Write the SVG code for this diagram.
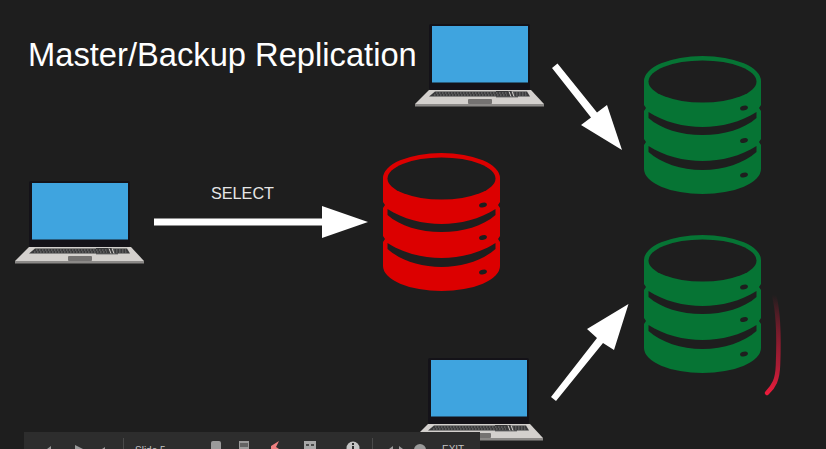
<svg xmlns="http://www.w3.org/2000/svg" xmlns:xlink="http://www.w3.org/1999/xlink" width="826" height="449" viewBox="0 0 826 449">
<style>
.t{font-family:"Liberation Sans",Arial,sans-serif;fill:#fff}
.tb{font-family:"Liberation Sans",Arial,sans-serif;fill:#c4c4c4;font-size:10px}
.ic{fill:#9a9a9a}
.conn{fill:#fff;stroke:none}
</style>
<defs>
<g id="db">
<path d="M0 25A58.5 25 0 0 1 117 25V49L115 52L117 55V83L115 86L117 89V113A58.5 25 0 0 1 0 113V89L2 86L0 83V55L2 52L0 49Z"/>
<ellipse cx="58.5" cy="25.5" rx="54" ry="21" fill="#1e1e1e"/>
<path fill="#1e1e1e" d="M4.5 56C20 66 40 71 58.5 71S97 66 112.5 56V62C100 73 80 79 58.5 79S17 73 4.5 62Z"/>
<path fill="#1e1e1e" d="M4.5 90C20 100 40 105 58.5 105S97 100 112.5 90V96C100 107 80 114 58.5 114S17 107 4.5 96Z"/>
<ellipse cx="100" cy="52" rx="4" ry="2.300" fill="#1e1e1e" transform="rotate(-15 100 52)"/>
<ellipse cx="100" cy="84.500" rx="4" ry="2.300" fill="#1e1e1e" transform="rotate(-15 100 84.500)"/>
<ellipse cx="100" cy="119" rx="4" ry="2.300" fill="#1e1e1e" transform="rotate(-15 100 119)"/>
</g>
<g id="laptop">
<rect x="14" y="0" width="101" height="66" rx="2" fill="#141218"/>
<rect x="17" y="2" width="96" height="56.500" fill="#3fa4df"/>
<path d="M14 66H116L129 80H0Z" fill="#d3d0cd"/>
<path d="M0 80H129V82.500H0Z" fill="#8b8987"/>
<path d="M20 67.500H112L115 72.500H14Z" fill="#3a3a3c"/>
<path d="M81 67.500H97M81 72.800H103" stroke="#3a3a3c" fill="none"/>
<path d="M21 69H92M19 71H92M98 69H111M98 71H113" stroke="#a9a7a6" stroke-width=".6" stroke-dasharray="1.500 1.500" fill="none"/>
<path d="M94 67.500L96 72.500M97 67.500L99 72.500" stroke="#d3d0cd" stroke-width="1" fill="none"/>
<rect x="53" y="75" width="24" height="5" rx="1" fill="#747271"/>
</g>
</defs>
<rect width="826" height="449" fill="#1e1e1e"/>
<text class="t" x="28" y="66" font-size="32.700">Master/Backup Replication</text>
<text class="t" x="211" y="199" font-size="16.200" style="fill:#e6e6e6">SELECT</text>
<g id="connectors">
<path class="conn" d="M154 218.500H322V206L368 222L322 238V225.500H154Z"/>
<path class="conn" d="M552 68L557.500 63.500L597 112.500L607 105L622 150L581 125L591 117.500Z"/>
<path class="conn" d="M551 397L556 401L603 343L614 350L628.500 304L587 329L597 338Z"/>
</g>
<g id="laptop-left"><use xlink:href="#laptop" href="#laptop" x="15" y="181"/></g>
<g id="laptop-top"><use xlink:href="#laptop" href="#laptop" x="415" y="24"/></g>
<g id="laptop-bottom"><use xlink:href="#laptop" href="#laptop" x="414" y="358"/></g>
<g id="db-red" fill="#dc0000"><use xlink:href="#db" href="#db" x="383" y="153"/></g>
<g id="db-green-top" fill="#067434"><use xlink:href="#db" href="#db" x="644" y="56"/></g>
<g id="db-green-bottom" fill="#067434"><use xlink:href="#db" href="#db" x="644" y="235"/></g>
<g id="ink">
<defs><linearGradient id="ink-g" gradientUnits="userSpaceOnUse" x1="775" y1="295" x2="770" y2="395"><stop offset="0" stop-color="#e8173a" stop-opacity="0"/><stop offset=".7" stop-color="#a81c34"/><stop offset="1" stop-color="#ee1c3c"/></linearGradient></defs>
<path d="M774 295C778 310 779 340 778 365C777.500 380 774 386 767 393" fill="none" stroke="url(#ink-g)" stroke-width="4.500" stroke-linecap="round"/>
</g>
<g id="toolbar">
<rect x="24" y="432" width="456" height="17" fill="#2d2d2d"/>
<path d="M123.500 438V449M372.500 438V449" stroke="#4a4a4a"/>
<path class="ic" d="M47 449L51 446V449ZM75 445L83 449H75ZM102 449L105 447V449Z"/>
<text class="tb" x="135" y="454">Slide 5</text>
<path class="ic" d="M211 443a2 2 0 0 1 2-2h6a2 2 0 0 1 2 2v6h-10Z"/>
<rect class="ic" x="239" y="441" width="10" height="8"/>
<path d="M240 444H248M240 446H248" stroke="#2d2d2d"/>
<path d="M271 446L279 441L276 447L279 449H271Z" fill="#f08080"/>
<rect x="304" y="441" width="12" height="8" fill="#a8a8a8"/>
<path d="M306 445H309M311 445H314" stroke="#2d2d2d" stroke-width="1.500"/>
<circle cx="353" cy="448" r="6.500" fill="#c4c4c4"/>
<rect x="352" y="443" width="2" height="2" fill="#2d2d2d"/>
<rect x="352" y="446" width="2" height="3" fill="#2d2d2d"/>
<path class="ic" d="M389 449L393 446V449ZM399 446L403 449H399Z"/>
<circle class="ic" cx="420" cy="450" r="6"/>
<text class="tb" x="442" y="453">EXIT</text>
</g>
</svg>
